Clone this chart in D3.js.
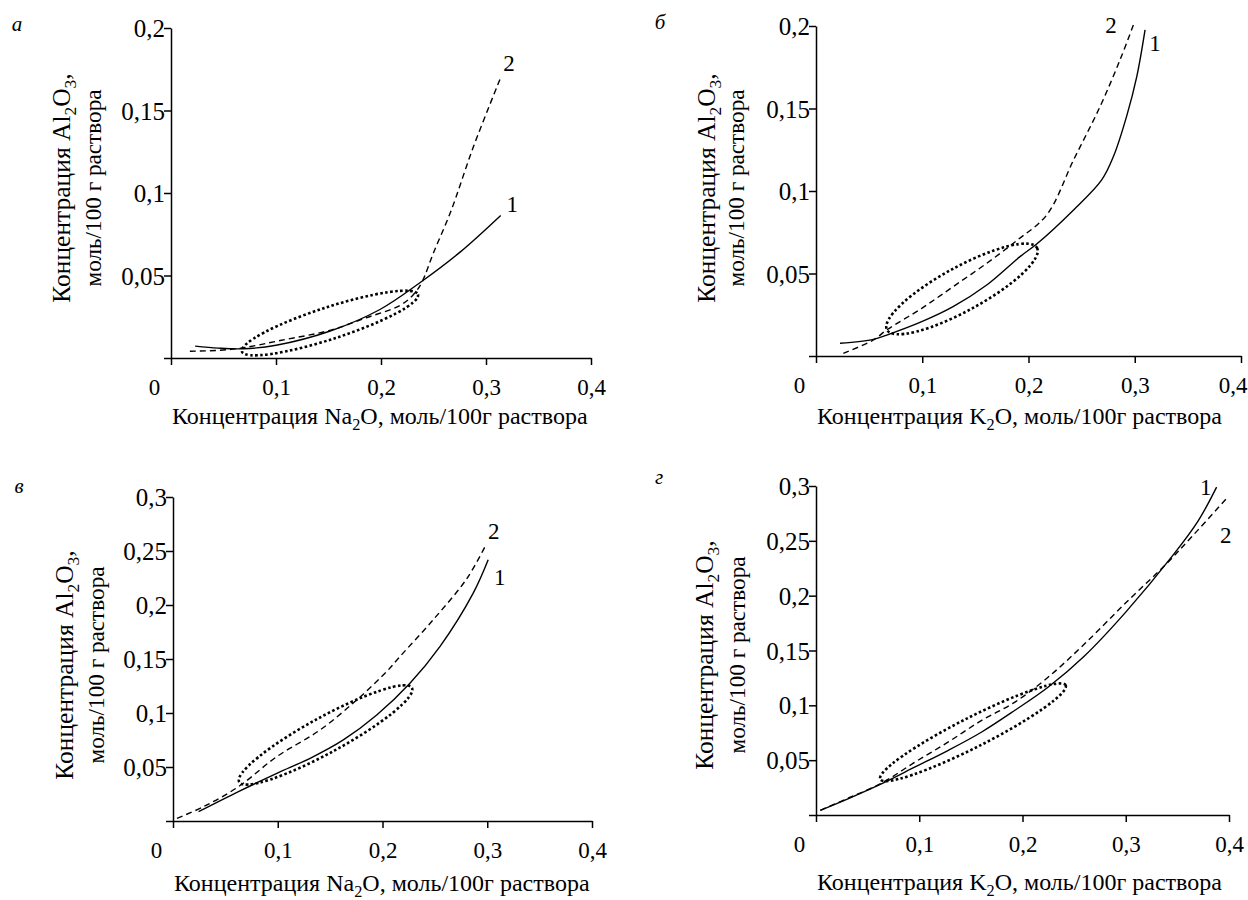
<!DOCTYPE html>
<html>
<head>
<meta charset="utf-8">
<script src="https://cdn.jsdelivr.net/npm/d3@7"></script>
<style>
  body { margin: 0; background: #fff; }
</style>
</head>
<body>
<svg id="chart" width="1248" height="900" font-family="Liberation Serif, Tinos, DejaVu Serif, serif"></svg>
<script>
// tick values
const xTicks = [0, 0.1, 0.2, 0.3, 0.4];
const yTicksLow = [0, 0.05, 0.1, 0.15, 0.2];
const yTicksHigh = [0, 0.05, 0.1, 0.15, 0.2, 0.25, 0.3];

// panel а (Na2O)
const curveA1 = [[0.023, 0.0072], [0.045, 0.006], [0.069, 0.0056], [0.1, 0.0077], [0.151, 0.0162],
  [0.199, 0.0294], [0.237, 0.0456], [0.275, 0.064], [0.314, 0.0864]];
const curveA2 = [[0.018, 0.0041], [0.047, 0.0047], [0.069, 0.0062], [0.104, 0.0106], [0.151, 0.0167],
  [0.186, 0.0244], [0.218, 0.0318], [0.231, 0.0385], [0.239, 0.046], [0.25, 0.0638],
  [0.266, 0.088], [0.288, 0.128], [0.314, 0.17]];

// panel б (K2O)
const curveB1 = [[0.0226, 0.0077], [0.054, 0.0101], [0.0666, 0.0127], [0.0995, 0.0208], [0.129, 0.0299],
  [0.1607, 0.043], [0.192, 0.0602], [0.208, 0.068], [0.2424, 0.0885], [0.2689, 0.1067],
  [0.28, 0.121], [0.2924, 0.1454], [0.3019, 0.1693], [0.3097, 0.1976]];
const curveB2 = [[0.0257, 0.0016], [0.054, 0.0097], [0.0666, 0.0158], [0.0995, 0.0289], [0.129, 0.042],
  [0.1607, 0.0562], [0.19, 0.0705], [0.2172, 0.0855], [0.2424, 0.1188], [0.2673, 0.1511],
  [0.2861, 0.1794], [0.2987, 0.2006]];

// panel в (Na2O)
const curveC1 = [[0.0244, 0.0086], [0.0625, 0.0272], [0.0991, 0.0442], [0.1309, 0.0581], [0.1626, 0.0751],
  [0.1945, 0.0982], [0.2262, 0.1276], [0.2548, 0.1615], [0.2866, 0.211], [0.3009, 0.2419]];
const curveC2 = [[0.0038, 0.0025], [0.0292, 0.0133], [0.0625, 0.0318], [0.0991, 0.0596], [0.1404, 0.0843],
  [0.1754, 0.1121], [0.204, 0.1384], [0.2167, 0.1523], [0.2484, 0.1863], [0.2802, 0.224],
  [0.2977, 0.2537]];

// panel г (K2O)
const curveD1 = [[0.0042, 0.0043], [0.0315, 0.015], [0.0638, 0.0286], [0.096, 0.0438], [0.1282, 0.059],
  [0.1605, 0.0757], [0.1927, 0.0955], [0.225, 0.1167], [0.26, 0.145], [0.3, 0.185],
  [0.345, 0.236], [0.37, 0.268], [0.388, 0.299]];
const curveD2 = [[0.0042, 0.0043], [0.0315, 0.0155], [0.0638, 0.0292], [0.096, 0.0483], [0.1282, 0.0666],
  [0.1605, 0.0863], [0.1927, 0.103], [0.225, 0.1258], [0.2604, 0.1563], [0.3008, 0.1942],
  [0.3395, 0.2292], [0.3652, 0.255], [0.3975, 0.2885]];

// dotted ovals: the two ends of the long axis, in data units
const ovalEnds = [
  [[0.0676, 0.0039], [0.2352, 0.0385]],
  [[0.0668, 0.0158], [0.208, 0.0655]],
  [[0.0632, 0.0361], [0.2281, 0.1233]],
  [[0.0622, 0.0326], [0.2418, 0.1183]]
];

// where the "1" and "2" labels sit, in data units
const labelSpots = [
  [[0.325, 0.0936], [0.322, 0.179]],
  [[0.319, 0.1897], [0.2776, 0.2006]],
  [[0.312, 0.2261], [0.3063, 0.2688]],
  [[0.3775, 0.2988], [0.3968, 0.2554]]
];

const panelLetters = ['а', 'б', 'в', 'г'];
const oxides = ['Na', 'K', 'Na', 'K'];

const panels = [
  { left: 171, right: 591, bottom: 358, top: 28, yMax: 0.2, yTicks: yTicksLow, c1: curveA1, c2: curveA2,
    letter: [17, 31], yTitle: [70, 101, 188], xTitleY: 424, ovalR: 16 },
  { left: 816, right: 1241, bottom: 356, top: 26, yMax: 0.2, yTicks: yTicksLow, c1: curveB1, c2: curveB2,
    letter: [660, 29], yTitle: [715, 744, 188], xTitleY: 424, ovalR: 22 },
  { left: 173, right: 592, bottom: 821, top: 497, yMax: 0.3, yTicks: yTicksHigh, c1: curveC1, c2: curveC2,
    letter: [19, 493], yTitle: [73, 104, 665], xTitleY: 891, ovalR: 18 },
  { left: 816, right: 1229, bottom: 815, top: 486, yMax: 0.3, yTicks: yTicksHigh, c1: curveD1, c2: curveD2,
    letter: [659, 484], yTitle: [713, 745, 655], xTitleY: 890, ovalR: 15 }
];

const svg = d3.select('#chart');
const comma = d => String(d).replace('.', ',');

// text with subscript digits, given as [text, isSub] pairs
function richText(text, parts, size) {
  let shift = 0;
  parts.forEach(([s, sub]) => {
    const want = sub ? Math.round(size * 0.24) : 0;
    text.append('tspan')
      .attr('font-size', sub ? size * 0.68 : size)
      .attr('dy', want - shift)
      .text(s);
    shift = want;
  });
}

panels.forEach((p, i) => {
  const x = d3.scaleLinear().domain([0, 0.4]).range([p.left, p.right]);
  const y = d3.scaleLinear().domain([0, p.yMax]).range([p.bottom, p.top]);
  const g = svg.append('g');

  // y axis
  const ya = g.append('g')
    .attr('transform', `translate(${p.left},0)`)
    .call(d3.axisLeft(y).tickValues(p.yTicks).tickSize(7).tickSizeOuter(0).tickPadding(-1)
      .tickFormat(d => d === 0 ? '' : comma(d)));
  // x axis
  const xa = g.append('g')
    .attr('transform', `translate(0,${p.bottom})`)
    .call(d3.axisBottom(x).tickValues(xTicks).tickSize(7).tickSizeOuter(0).tickPadding(14)
      .tickFormat(comma));

  [ya, xa].forEach(a => {
    a.attr('font-family', null).attr('font-size', null);
    a.selectAll('path, line').attr('stroke', '#000').attr('stroke-width', 1.5);
  });
  ya.selectAll('text').attr('font-size', 25).attr('dy', '0.34em').attr('fill', '#000');
  xa.selectAll('text').attr('font-size', 23).attr('fill', '#000')
    .attr('dx', d => d === 0 ? -17 : 0)
    .attr('text-anchor', d => (d === 0.4 && p.right > 1235) ? 'end' : 'middle')
    .attr('x', d => (d === 0.4 && p.right > 1235) ? 6 : 0);

  // curves
  const line = d3.line().x(d => x(d[0])).y(d => y(d[1])).curve(d3.curveCatmullRom.alpha(0.5));
  g.append('path').datum(p.c1)
    .attr('d', line).attr('fill', 'none').attr('stroke', '#000').attr('stroke-width', 1.4);
  g.append('path').datum(p.c2)
    .attr('d', line).attr('fill', 'none').attr('stroke', '#000').attr('stroke-width', 1.4)
    .attr('stroke-dasharray', '6,4');

  // dotted oval
  const [e1, e2] = ovalEnds[i];
  const x1 = x(e1[0]), y1 = y(e1[1]), x2 = x(e2[0]), y2 = y(e2[1]);
  const cx = (x1 + x2) / 2, cy = (y1 + y2) / 2;
  const ang = Math.atan2(y2 - y1, x2 - x1) * 180 / Math.PI;
  g.append('ellipse')
    .attr('cx', cx).attr('cy', cy)
    .attr('rx', Math.hypot(x2 - x1, y2 - y1) / 2).attr('ry', p.ovalR)
    .attr('transform', `rotate(${ang},${cx},${cy})`)
    .attr('fill', 'none').attr('stroke', '#000').attr('stroke-width', 2.6)
    .attr('stroke-dasharray', '2.6,2.4');

  // curve numbers
  labelSpots[i].forEach((s, k) => {
    g.append('text')
      .attr('x', x(s[0])).attr('y', y(s[1]))
      .attr('dy', '0.35em').attr('text-anchor', 'middle')
      .attr('font-size', 23)
      .text(k + 1);
  });

  // panel letter
  g.append('text')
    .attr('x', p.letter[0]).attr('y', p.letter[1])
    .attr('text-anchor', 'middle').attr('font-style', 'italic').attr('font-size', 21)
    .text(panelLetters[i]);

  // y title, two lines
  const t1 = g.append('text')
    .attr('transform', `translate(${p.yTitle[0]},${p.yTitle[2]}) rotate(-90)`)
    .attr('text-anchor', 'middle');
  richText(t1, [['Концентрация Al', 0], ['2', 1], ['O', 0], ['3', 1], [',', 0]], 25.5);
  g.append('text')
    .attr('transform', `translate(${p.yTitle[1]},${p.yTitle[2]}) rotate(-90)`)
    .attr('text-anchor', 'middle').attr('font-size', 23.2)
    .text('моль/100 г раствора');

  // x title
  const t2 = g.append('text')
    .attr('x', p.left + 1).attr('y', p.xTitleY);
  richText(t2, [['Концентрация ' + oxides[i], 0], ['2', 1], ['O, моль/100г раствора', 0]], 24);
});
</script>
</body>
</html>
